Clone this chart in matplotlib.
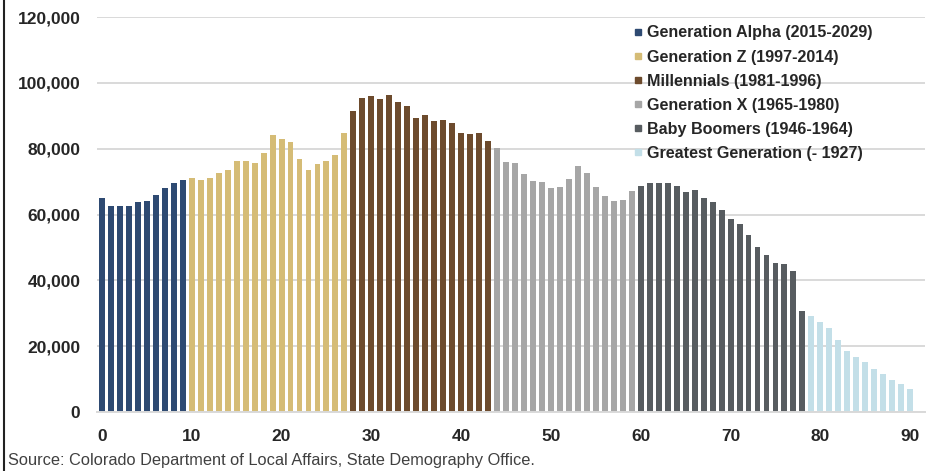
import matplotlib
matplotlib.use("Agg")
import matplotlib.pyplot as plt
from matplotlib.lines import Line2D
from matplotlib.ticker import FuncFormatter

# Colorado population by single year of age, grouped by generation
alpha_ages = list(range(0, 10))
alpha_pop = [65000, 62500, 62700, 62500, 63900, 64000, 66000, 68000, 69500, 70500]

genz_ages = list(range(10, 28))
genz_pop = [71000, 70400, 71000, 72500, 73500, 76200, 76400, 75500, 78600,
            84200, 83000, 82000, 77000, 73600, 75300, 76300, 78100, 84900]

millennial_ages = list(range(28, 44))
millennial_pop = [91300, 95400, 96100, 95200, 96300, 94200, 93100, 89300,
                  90200, 88400, 88600, 87800, 84900, 84500, 84800, 82200]

genx_ages = list(range(44, 60))
genx_pop = [80200, 75900, 75700, 72400, 70300, 70000, 68000, 68500,
            70900, 74800, 72500, 68400, 65500, 64000, 64300, 67000]

boomer_ages = list(range(60, 79))
boomer_pop = [68600, 69500, 69500, 69700, 68800, 66900, 67500, 65100, 63800,
              61500, 58700, 57200, 53900, 50200, 47800, 45300, 45100, 42700, 30700]

greatest_ages = list(range(79, 91))
greatest_pop = [29100, 27400, 25600, 21800, 18500, 16800, 15100, 13200,
                11400, 9800, 8600, 7100]

series = [
    ("Generation Alpha (2015-2029)", alpha_ages, alpha_pop, "#2E4A72"),
    ("Generation Z (1997-2014)", genz_ages, genz_pop, "#D5BC76"),
    ("Millennials (1981-1996)", millennial_ages, millennial_pop, "#6D4B2D"),
    ("Generation X (1965-1980)", genx_ages, genx_pop, "#A6A6A6"),
    ("Baby Boomers (1946-1964)", boomer_ages, boomer_pop, "#575C60"),
    ("Greatest Generation (- 1927)", greatest_ages, greatest_pop, "#C3DFE8"),
]

x_ticks = [0, 10, 20, 30, 40, 50, 60, 70, 80, 90]
y_ticks = [0, 20000, 40000, 60000, 80000, 100000, 120000]

plt.rcParams["font.family"] = ["Liberation Sans", "DejaVu Sans"]

W, H = 936, 471
fig = plt.figure(figsize=(W / 100, H / 100), dpi=100)
ax = fig.add_axes([97 / W, (H - 412) / H, (925 - 97) / W, (412 - 17) / H])

for label, ages, pop, color in series:
    ax.bar(ages, pop, width=0.66, color=color, label=label, zorder=3)

ax.set_xlim(-0.55, 91.65)
ax.set_ylim(0, 120000)
ax.set_xticks(x_ticks)
ax.set_yticks(y_ticks)
ax.yaxis.set_major_formatter(FuncFormatter(lambda v, p: f"{int(v):,}"))

ax.grid(axis="y", color="#D9D9D9", linewidth=1.4, zorder=0)
for side in ("top", "right", "left"):
    ax.spines[side].set_visible(False)
ax.spines["bottom"].set_color("#D9D9D9")
ax.spines["bottom"].set_linewidth(1.4)
ax.spines["bottom"].set_zorder(4)

ax.tick_params(axis="both", length=0, labelsize=12.5, colors="#262626")
ax.tick_params(axis="y", pad=12)
ax.tick_params(axis="x", pad=12)
for t in ax.get_xticklabels() + ax.get_yticklabels():
    t.set_fontweight("bold")

handles = [Line2D([], [], marker="s", linestyle="none", markersize=4.5,
                  markerfacecolor=c, markeredgecolor=c) for _, _, _, c in series]
labels = [s[0] for s in series]
leg = ax.legend(handles, labels, loc="upper left", bbox_to_anchor=(0.636, 1.003),
                frameon=False, handlelength=0.55, handletextpad=0.3,
                labelspacing=0.565, borderaxespad=0.2,
                prop={"weight": "bold", "size": 11.6})
for t in leg.get_texts():
    t.set_color("#262626")

fig.text(8 / W, 1 - 461 / H, "Source: Colorado Department of Local Affairs, State Demography Office.",
         fontsize=11.8, color="#404040", va="center", ha="left")

# left border rule
fig.add_artist(Line2D([3.5 / W, 3.5 / W], [0, 1], color="#222222", linewidth=1.5,
                      transform=fig.transFigure))

fig.savefig("out.png", dpi=100)
